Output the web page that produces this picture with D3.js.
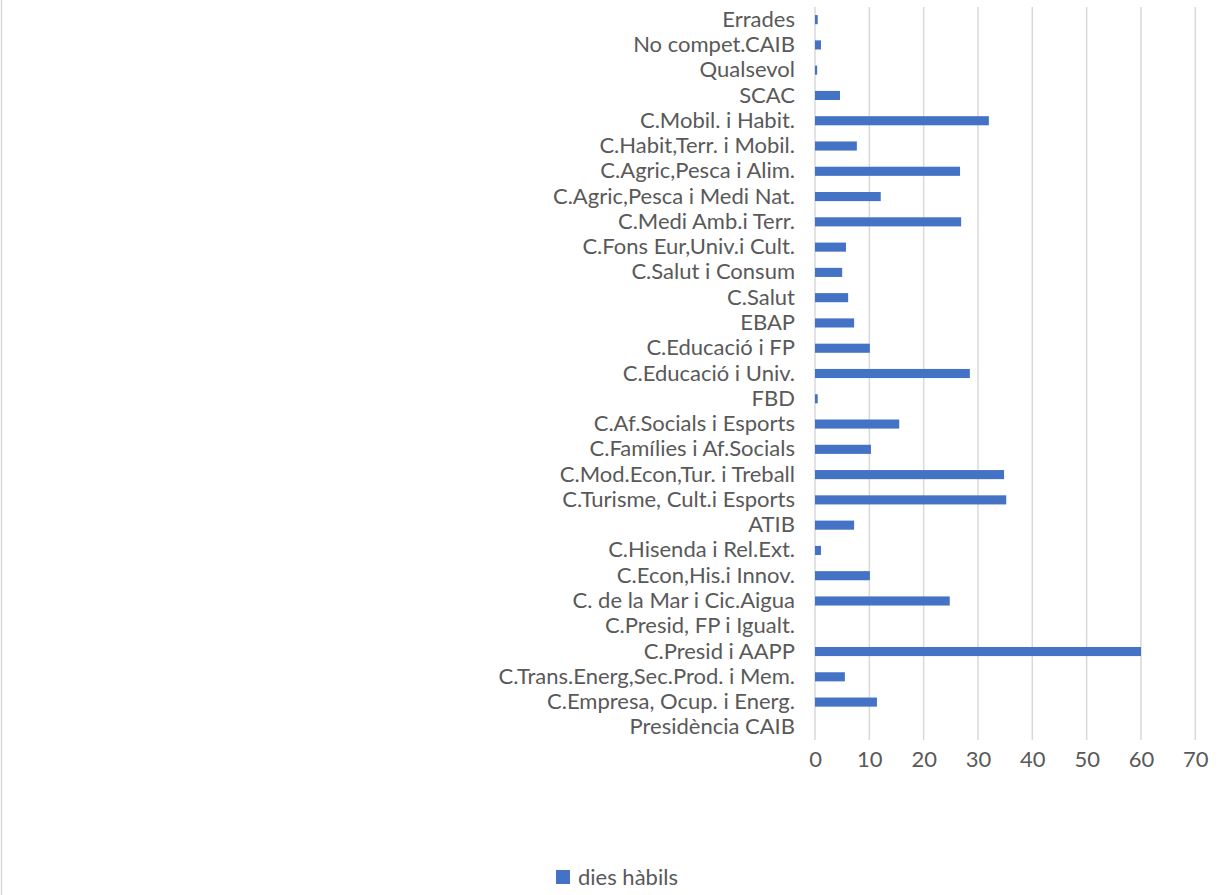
<!DOCTYPE html>
<html>
<head>
<meta charset="utf-8">
<script src="https://cdnjs.cloudflare.com/ajax/libs/d3/7.8.5/d3.min.js"></script>
<style>
    body { margin: 0; background: #fff; }
    svg text { font-family: Lato, "Open Sans", sans-serif; fill: #595959; }
</style>
</head>
<body>
<div id="chart"></div>
<script>
// categories, top to bottom as shown
var categories = [
    "Errades", "No compet.CAIB", "Qualsevol", "SCAC", "C.Mobil. i Habit.",
    "C.Habit,Terr. i Mobil.", "C.Agric,Pesca i Alim.", "C.Agric,Pesca i Medi Nat.",
    "C.Medi Amb.i Terr.", "C.Fons Eur,Univ.i Cult.", "C.Salut i Consum", "C.Salut",
    "EBAP", "C.Educació i FP", "C.Educació i Univ.", "FBD", "C.Af.Socials i Esports",
    "C.Famílies i Af.Socials", "C.Mod.Econ,Tur. i Treball", "C.Turisme, Cult.i Esports",
    "ATIB", "C.Hisenda i Rel.Ext.", "C.Econ,His.i Innov.", "C. de la Mar i Cic.Aigua",
    "C.Presid, FP i Igualt.", "C.Presid i AAPP", "C.Trans.Energ,Sec.Prod. i Mem.",
    "C.Empresa, Ocup. i Energ.", "Presidència CAIB"
];
var diesHabils = [
    0.5, 1.1, 0.4, 4.6, 32.0,
    7.7, 26.7, 12.1,
    26.9, 5.7, 5.0, 6.1,
    7.2, 10.1, 28.5, 0.5, 15.5,
    10.3, 34.8, 35.2,
    7.2, 1.1, 10.1, 24.8,
    0, 60, 5.5,
    11.4, 0
];
var xTicks = [0, 10, 20, 30, 40, 50, 60, 70];
var seriesName = "dies hàbils";

var width = 1232, height = 895;
var margin = {top: 7, right: 37, bottom: 155, left: 815};
var chartWidth = width - margin.left - margin.right;
var chartHeight = height - margin.top - margin.bottom;
var fontSize = "22px";

var svg = d3.select("#chart").append("svg")
    .attr("width", width)
    .attr("height", height);

// chart area border (left edge visible)
svg.append("line")
    .attr("x1", 1.5).attr("x2", 1.5)
    .attr("y1", 0).attr("y2", height)
    .style("stroke", "#d9d9d9")
    .style("stroke-width", 1.5);

var xScale = d3.scaleLinear()
    .domain([0, 70])
    .range([0, 70 * 5.433]);

var yScale = d3.scaleBand()
    .domain(categories)
    .range([0, chartHeight])
    .paddingInner(0.64)
    .paddingOuter(0.32);

var g = svg.append("g")
    .attr("transform", "translate(" + margin.left + "," + margin.top + ")");

// gridlines
g.selectAll("line.grid")
    .data(xTicks)
    .enter()
    .append("line")
    .attr("class", "grid")
    .attr("x1", function(d){ return xScale(d); })
    .attr("x2", function(d){ return xScale(d); })
    .attr("y1", 0)
    .attr("y2", chartHeight)
    .style("stroke", "#d9d9d9")
    .style("stroke-width", 1.5);

// bars
g.selectAll("rect.bar")
    .data(categories)
    .enter()
    .append("rect")
    .attr("class", "bar")
    .attr("x", xScale(0))
    .attr("y", function(d){ return yScale(d); })
    .attr("width", function(d, i){ return xScale(diesHabils[i]) - xScale(0); })
    .attr("height", yScale.bandwidth())
    .style("fill", "#4472c4");

// x axis
var xAxis = g.append("g")
    .attr("transform", "translate(0," + chartHeight + ")")
    .call(d3.axisBottom(xScale).tickValues(xTicks).tickSize(0).tickPadding(11));
xAxis.select(".domain").remove();
xAxis.selectAll("text")
    .style("font-size", fontSize)
    .style("fill", "#595959")
    .style("font-family", "Lato, sans-serif");

// y axis
var yAxis = g.append("g")
    .call(d3.axisLeft(yScale).tickSize(0).tickPadding(20));
yAxis.select(".domain").remove();
yAxis.selectAll("text")
    .style("font-size", fontSize)
    .style("fill", "#595959")
    .style("font-family", "Lato, sans-serif");

// legend
var legend = svg.append("g")
    .attr("transform", "translate(556,870)");
legend.append("rect")
    .attr("width", 14)
    .attr("height", 14)
    .style("fill", "#4472c4");
legend.append("text")
    .attr("x", 22)
    .attr("y", 7)
    .attr("dy", "0.35em")
    .style("font-size", fontSize)
    .text(seriesName);
</script>
</body>
</html>
